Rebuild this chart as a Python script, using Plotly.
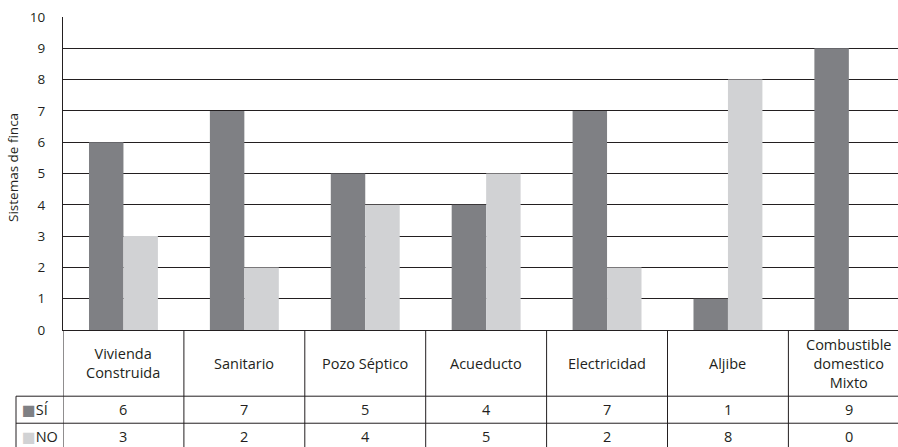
import plotly.graph_objects as go

categories = ["Vivienda<br>Construida", "Sanitario", "Pozo Séptico", "Acueducto",
              "Electricidad", "Aljibe", "Combustible<br>domestico<br>Mixto"]
si_values = [6, 7, 5, 4, 7, 1, 9]
no_values = [3, 2, 4, 5, 2, 8, 0]
series_names = ["SÍ", "NO"]
y_ticks = list(range(0, 11))
y_title = "Sistemas de finca"

DARK = "#7f8084"
LIGHT = "#d1d2d4"
INK = "#231f20"
FONT = "Open Sans"

W, H = 898, 447
ML, MT = 63, 17
PW, PH = W - ML, H - MT
TABLE_D = 117 / PH            # paper fraction taken by the table
ROW_LO, ROW_HI = 0.12, 4.45   # table row units visible (NO 0-1, SÍ 1-2, header 2-4.45)


def row_y(v):
    return TABLE_D * (v - ROW_LO) / (ROW_HI - ROW_LO)


cat_px = 120.9
x_hi = 6.5 - (ML + 7 * cat_px - W) / cat_px

fig = go.Figure()
fig.add_trace(go.Bar(x=list(range(len(categories))), y=si_values, name=series_names[0],
                     marker=dict(color=DARK, line=dict(width=0)), hoverinfo="skip"))
fig.add_trace(go.Bar(x=list(range(len(categories))), y=no_values, name=series_names[1],
                     marker=dict(color=LIGHT, line=dict(width=0)), hoverinfo="skip"))

shapes = []
# vertical table lines at category boundaries
for i in range(len(categories) + 1):
    shapes.append(dict(type="line", xref="x", yref="paper", x0=i - 0.5, x1=i - 0.5,
                       y0=0, y1=TABLE_D, line=dict(color=INK, width=1)))
leg_left = (16 - ML) / PW
for v in (2, 1, 0):
    shapes.append(dict(type="line", xref="paper", yref="paper", x0=leg_left, x1=1,
                       y0=row_y(v), y1=row_y(v), line=dict(color=INK, width=1)))
shapes.append(dict(type="line", xref="paper", yref="paper", x0=leg_left, x1=leg_left,
                   y0=row_y(0), y1=row_y(2), line=dict(color=INK, width=1)))

annotations = []
tfont = dict(family=FONT, size=14.5, color=INK)
for i, c in enumerate(categories):
    annotations.append(dict(x=i, xref="x", y=row_y(3.225), yref="paper", text=c,
                            showarrow=False, font=tfont,
                            xanchor="center", yanchor="middle"))
    annotations.append(dict(x=i, xref="x", y=row_y(1.5), yref="paper", text=str(si_values[i]),
                            showarrow=False, font=tfont, xanchor="center", yanchor="middle"))
    annotations.append(dict(x=i, xref="x", y=row_y(0.5), yref="paper", text=str(no_values[i]),
                            showarrow=False, font=tfont, xanchor="center", yanchor="middle"))
for name, col, v in ((series_names[0], DARK, 1.5), (series_names[1], LIGHT, 0.5)):
    annotations.append(dict(x=(20 - ML) / PW, xref="paper", y=row_y(v), yref="paper",
                            text=f"<span style='color:{col};font-family:DejaVu Sans'>■</span>{name}",
                            showarrow=False, xanchor="left", yanchor="middle",
                            font=tfont))
annotations.append(dict(x=(13 - ML) / PW, xref="paper", y=(H - 168) / PH, yref="paper",
                        text=y_title, textangle=-90, showarrow=False,
                        xanchor="center", yanchor="middle",
                        font=dict(family=FONT, size=13.5, color=INK)))

fig.update_layout(
    width=W, height=H, autosize=False,
    margin=dict(l=ML, r=0, t=MT, b=0, pad=0, autoexpand=False),
    paper_bgcolor="white", plot_bgcolor="white",
    barmode="group", bargap=0.43, bargroupgap=0,
    showlegend=False, hovermode=False,
    shapes=shapes, annotations=annotations,
    xaxis=dict(range=[-0.5, x_hi], showticklabels=False, ticks="", showgrid=False,
               automargin=False,
               zeroline=False, showline=True, linecolor=INK, linewidth=1, fixedrange=True),
    yaxis=dict(domain=[TABLE_D, 1], range=[0, 10], tickvals=y_ticks, showgrid=True,
               automargin=False, fixedrange=True,
               gridcolor=INK, gridwidth=1, zeroline=False, showline=True, linecolor=INK,
               linewidth=1, ticks="", ticklabelstandoff=14,
               tickfont=dict(family=FONT, size=13.5, color=INK)),
    font=dict(family=FONT, color=INK),
)

fig.write_html("out.html", config={"displayModeBar": False},
               post_script="document.body.style.margin='0px';document.body.style.overflow='hidden';")
